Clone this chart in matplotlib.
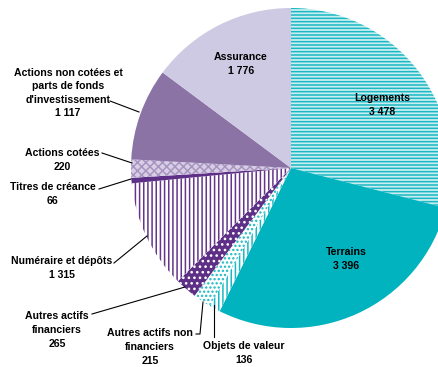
import matplotlib.pyplot as plt

plt.rcParams['font.family'] = ['Liberation Sans', 'DejaVu Sans']
plt.rcParams['hatch.linewidth'] = 1.1

# patrimoine par type d'actif (sens horaire depuis midi)
labels = ['Logements', 'Terrains', 'Objets de valeur', 'Autres actifs non\nfinanciers',
          'Autres actifs\nfinanciers', 'Numéraire et dépôts', 'Titres de créance',
          'Actions cotées', "Actions non cotées et\nparts de fonds\nd'investissement", 'Assurance']
values = [3478, 3396, 136, 215, 265, 1315, 66, 220, 1117, 1776]

faces = ['#c9eef1', '#00b3be', 'white', 'white', '#5e2f86', 'white', '#5e2f86', '#d8cfe6', '#8b73a6', '#cfcae3']
hatch_cols = ['#19b8c3', '#00b3be', '#19b8c3', '#19b8c3', 'white', '#64358b', '#5e2f86', '#a795c0', '#8b73a6', '#cfcae3']
hatches = ['-----', None, '||||', '....', '...', '||||', None, 'xxxx', None, None]

fig = plt.figure(figsize=(4.39, 3.67), dpi=100)
ax = fig.add_axes([0, 0, 1, 1])

cx, cy, r = 291, 367 - 168, 160
wedges, _ = ax.pie(values, center=(cx, cy), radius=r, startangle=90, counterclock=False,
                   frame=True)
for w, fc, hc, h in zip(wedges, faces, hatch_cols, hatches):
    w.set_facecolor(fc)
    w.set_edgecolor(hc)
    w.set_linewidth(0)
    if h:
        w.set_hatch(h)
ax.set_xlim(0, 439)
ax.set_ylim(0, 367)
ax.set_aspect('equal')
ax.axis('off')


def txt(x, y, s):
    ax.text(x, 367 - y, s, ha='center', va='center', fontsize=7.6, fontweight='bold',
            linespacing=1.45)


def lead(pts):
    ax.plot([p[0] for p in pts], [367 - p[1] for p in pts], color='black', lw=0.8)


def num(v):
    return f'{v:,}'.replace(',', ' ')


txt(382, 105, f'{labels[0]}\n{num(values[0])}')
txt(346, 259, f'{labels[1]}\n{num(values[1])}')
txt(241, 64, f'{labels[9]}\n{num(values[9])}')
txt(68, 93, f'{labels[8]}\n{num(values[8])}')
txt(62, 160, f'{labels[7]}\n{num(values[7])}')
txt(53, 194, f'{labels[6]}\n{num(values[6])}')
txt(62, 268, f'{labels[5]}\n{num(values[5])}')
txt(57, 330, f'{labels[4]}\n{num(values[4])}')
txt(150, 347, f'{labels[3]}\n{num(values[3])}')
txt(244, 353, f'{labels[2]}\n{num(values[2])}')

lead([(110, 101), (139, 112)])
lead([(102, 153), (132, 163)])
lead([(99, 189), (131, 179)])
lead([(114, 263), (147, 236)])
lead([(92, 314), (185, 287)])
lead([(196, 334), (200, 334), (203, 302)])
lead([(214, 337), (214, 305)])

fig.savefig('out.png', dpi=100)
